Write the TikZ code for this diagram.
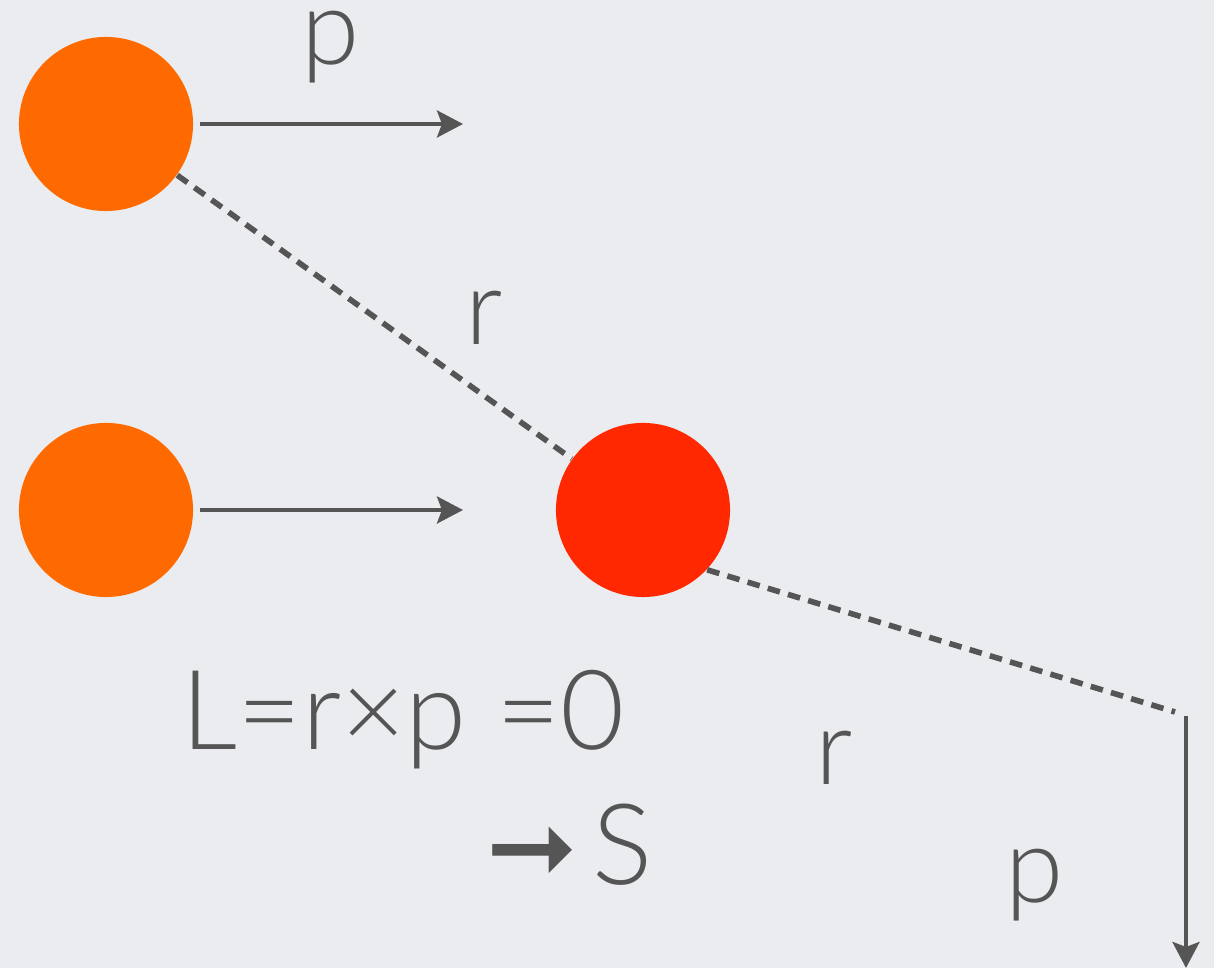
\documentclass[tikz,border=0pt]{standalone}
\usepackage{fontspec}
\setmainfont{Lato Light}
\newfontfamily\symfont{DejaVu Sans}
\usetikzlibrary{arrows.meta}
\definecolor{bg}{RGB}{234,236,239}
\definecolor{ink}{RGB}{85,85,85}
\definecolor{orangeball}{RGB}{255,106,0}
\definecolor{redball}{RGB}{255,40,0}
\tikzset{
  ball/.style={circle, minimum size=1.74cm, inner sep=0pt, draw=none},
  vec/.style={draw=ink, line width=1.15pt, -{Stealth[length=0.26cm, width=0.27cm, inset=0.05cm, fill=ink]}},
  dash line/.style={color=ink, line width=1.6pt, dash pattern=on 3.6pt off 2.4pt},
  lbl/.style={text=ink, font=\fontsize{30}{36}\selectfont, inner sep=0pt, anchor=base}
}
\begin{document}
\begin{tikzpicture}[x=0.01cm, y=-0.01cm]
\fill[bg] (0,0) rectangle (1214,968);
\useasboundingbox (0,0) rectangle (1214,968);
% balls
\node[ball, fill=orangeball] (a) at (106,124) {};
\node[ball, fill=orangeball] (b) at (106,510) {};
\node[ball, fill=redball] (c) at (643,510) {};
% momentum arrows
\coordinate (ae) at (463,124);
\coordinate (be) at (463,510);
\draw[vec, shorten <=0.06cm] (a.east) -- (ae);
\draw[vec, shorten <=0.06cm] (b.east) -- (be);
% dashed r lines
\draw[dash line] (a) -- (c);
\coordinate (rt) at (1175,712);
\draw[dash line] (c.-43) -- (rt);
% vertical p arrow
\coordinate (vs) at (1186,716);
\coordinate (ve) at (1186,968);
\draw[vec] (vs) -- (ve);
% labels
\node[lbl] (p1) at (331,65) {p};
\node[lbl] (r1) at (484,345) {r};
\node[lbl, anchor=base west, font=\fontsize{31.5}{36}\selectfont] (eq) at (181,750) {L=r×p =0};
\node[lbl, anchor=base west] (s) at (486,885) {{\symfont\fontsize{31}{36}\selectfont ➞}\kern4pt{\fontsize{32}{36}\selectfont S}};
\node[lbl] (r2) at (834,785) {r};
\node[lbl] (p2) at (1035,903) {p};
\end{tikzpicture}
\end{document}
